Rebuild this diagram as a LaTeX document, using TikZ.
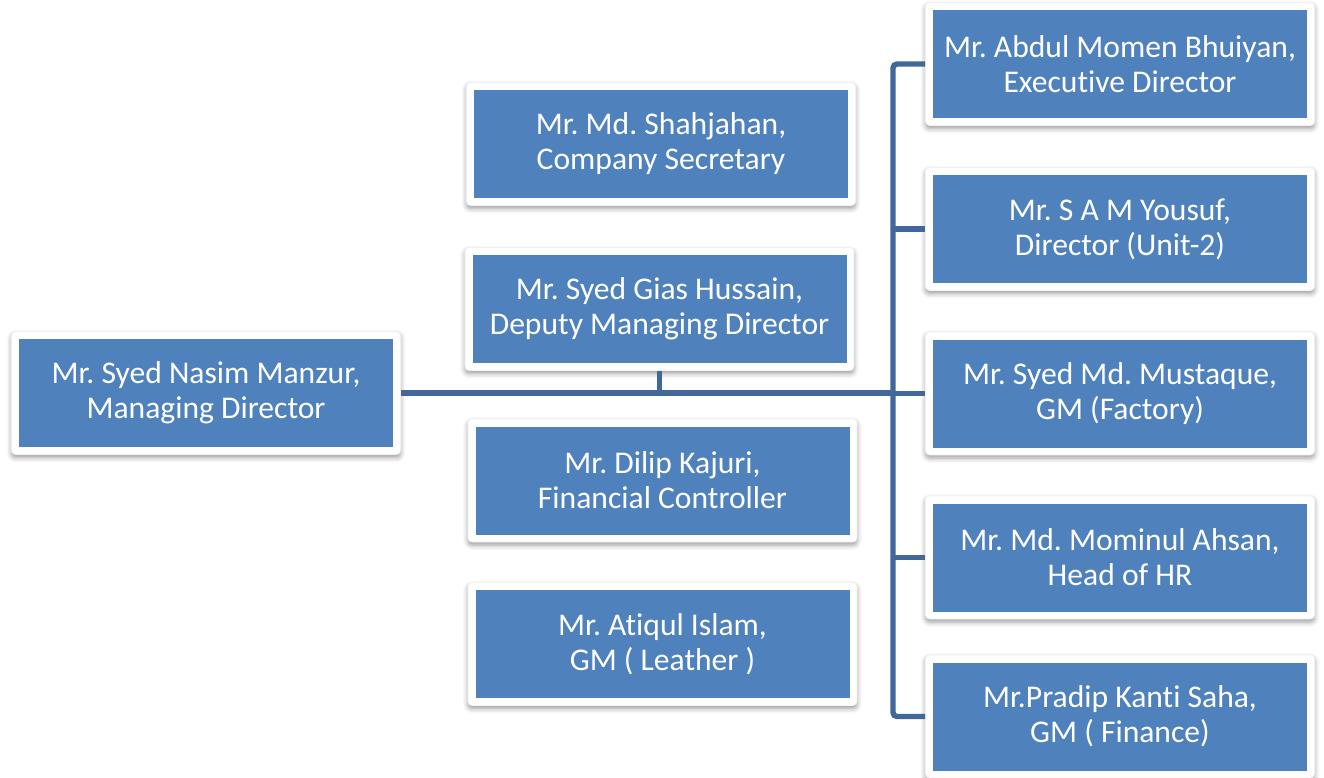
\documentclass[tikz,border=0pt]{standalone}
\usepackage{fontspec}
\setmainfont{Carlito}[RawFeature={-liga}]
\usetikzlibrary{shadows.blur}
\frenchspacing
\definecolor{boxblue}{HTML}{4F81BD}
\definecolor{linkblue}{HTML}{41689B}
\tikzset{
  % a white card with a soft shadow and a blue panel inset in it
  person/.style={fill=white, draw=black!6, line width=0.6pt, rounded corners=4pt,
    minimum width=389pt, minimum height=123pt, inner sep=0pt, align=center,
    text=white, font=\fontsize{31.6}{35}\selectfont,
    blur shadow={shadow xshift=0pt, shadow yshift=-3pt, shadow blur radius=5pt, shadow opacity=40},
    path picture={\fill[boxblue, sharp corners]
      ([shift={(7.5pt,-7.5pt)}]path picture bounding box.north west) rectangle
      ([shift={(-7.5pt,7.5pt)}]path picture bounding box.south east);}},
  link/.style={draw=linkblue, line width=5.4pt},
}
\begin{document}
\begin{tikzpicture}[x=1pt, y=-1pt]
\useasboundingbox (0,0) rectangle (1324,778);

% managing director
\node[person] (md) at (206,393) {Mr. Syed Nasim Manzur,\\Managing Director};

% middle column
\node[person] (cs)  at (661,144)     {Mr. Md. Shahjahan,\\Company Secretary};
\node[person] (dmd) at (659.5,309)   {Mr. Syed Gias Hussain,\\Deputy Managing Director};
\node[person] (fc)  at (662.5,480.5) {Mr. Dilip Kajuri,\\Financial Controller};
\node[person] (gml) at (662.5,644)   {Mr. Atiqul Islam,\\GM ( Leather )};

% right column
\node[person] (ed)  at (1120,64)    {Mr. Abdul Momen Bhuiyan,\\Executive Director};
\node[person] (dir) at (1120,229)   {Mr. S A M Yousuf,\\Director (Unit-2)};
\node[person] (gmf) at (1120,393.5) {Mr. Syed Md. Mustaque,\\GM (Factory)};
\node[person] (hr)  at (1120,557.5) {Mr. Md. Mominul Ahsan,\\Head of HR};
\node[person] (gmn) at (1120,716.5) {Mr.Pradip Kanti Saha,\\GM ( Finance)};

\coordinate (trunk) at (893,393);

% connectors
\draw[link] (md.east) -- (md.east -| trunk);
\draw[link] (dmd.south) -- (dmd.south |- md.east);
\draw[link, rounded corners=4pt] (ed.west) -- (ed.west -| trunk) -- (gmn.west -| trunk) -- (gmn.west);
\draw[link] (dir.west -| trunk) -- (dir.west);
\draw[link] (gmf.west -| trunk) -- (gmf.west);
\draw[link] (hr.west -| trunk) -- (hr.west);
\end{tikzpicture}
\end{document}
